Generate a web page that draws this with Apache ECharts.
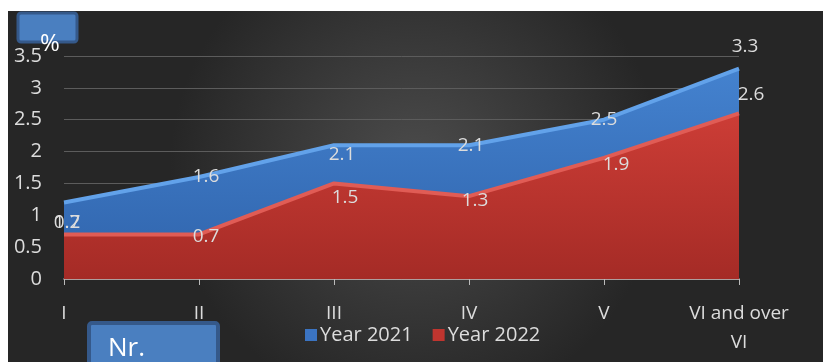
<!DOCTYPE html>
<html><head><meta charset="utf-8">
<script src="https://cdn.jsdelivr.net/npm/echarts@6/dist/echarts.min.js"></script>
<style>html,body{margin:0;padding:0;background:#fff}#c{width:823px;height:362px}</style>
</head><body><div id="c"></div>
<script>
const categories = ['I','II','III','IV','V','VI and over\nVI'];
const year2021 = [1.2, 1.6, 2.1, 2.1, 2.5, 3.3];
const year2022 = [0.7, 0.7, 1.5, 1.3, 1.9, 2.6];
const yTicks = {min: 0, max: 3.5, interval: 0.5};
const off2021 = [[3,20],[7,0],[8,9],[2,0],[0,0],[6,-22]];
const off2022 = [[3,-12],[7,2],[11,14],[6,4],[12,7],[12,-19]];

const chart = echarts.init(document.getElementById('c'));
const lbl = {show:true, position:'inside', color:'#dcdcdc', fontSize:19, fontFamily:'Open Sans'};
function mk(vals, offs){ return vals.map((v,i)=>({value:v, label:{offset:offs[i]}})); }
chart.setOption({
  animation:false,
  backgroundColor:'#ffffff',
  graphic:[
    {type:'rect', z:-10, silent:true, shape:{x:8,y:11,width:815,height:351},
     style:{fill:new echarts.graphic.RadialGradient(0.5,0.45,0.7,[{offset:0,color:'#4c4c4c'},{offset:1,color:'#262626'}])}},
    {type:'rect', z:50, shape:{x:18,y:13,width:59,height:29,r:3},
     style:{fill:'#4a7fc0', stroke:'#35598a', lineWidth:3}},
    {type:'text', z:51, style:{x:50,y:56,text:'%',fill:'#ffffff',font:'24px "Open Sans"',align:'center',verticalAlign:'bottom'}},
    {type:'rect', z:50, shape:{x:89,y:323,width:129,height:45,r:3},
     style:{fill:'#4a7fc0', stroke:'#35598a', lineWidth:4}},
    {type:'text', z:51, style:{x:108,y:336,text:'Nr.',fill:'#ffffff',font:'26px "Open Sans"',align:'left',verticalAlign:'top'}}
  ],
  grid:{left:64, right:84, top:56, bottom:83, containLabel:false},
  legend:{
    data:['Year 2021','Year 2022'], left:300, top:320, itemWidth:12, itemHeight:12, itemGap:20,
    icon:'rect', textStyle:{color:'#dcdcdc', fontSize:20, fontFamily:'Open Sans', padding:[0,0,0,-2]}
  },
  xAxis:{
    type:'category', data:categories, boundaryGap:false,
    axisLine:{lineStyle:{color:'#c8b4b4', width:1.5}},
    axisTick:{show:true, length:6, interval:0, lineStyle:{color:'#bbbbbb'}},
    axisLabel:{color:'#dcdcdc', fontSize:19, fontFamily:'Open Sans', margin:20, lineHeight:29, interval:0},
    splitLine:{show:false}
  },
  yAxis:{
    type:'value', min:yTicks.min, max:yTicks.max, interval:yTicks.interval,
    axisLine:{show:false}, axisTick:{show:false},
    axisLabel:{color:'#dcdcdc', fontSize:20, fontFamily:'Open Sans', margin:22},
    splitLine:{lineStyle:{color:'#5c5c5c', width:1}}
  },
  series:[
    {name:'Year 2021', type:'line', data:mk(year2021, off2021), symbol:'circle', symbolSize:0, showSymbol:true,
     itemStyle:{color:'#3b74c2'},
     lineStyle:{color:'#62a2ea', width:4},
     areaStyle:{opacity:1, color:new echarts.graphic.LinearGradient(0,0,0,1,[{offset:0,color:'#4482cf'},{offset:1,color:'#2f63ab'}])},
     label:lbl, z:2},
    {name:'Year 2022', type:'line', data:mk(year2022, off2022), symbol:'circle', symbolSize:0, showSymbol:true,
     itemStyle:{color:'#c0352f'},
     lineStyle:{color:'#e05c55', width:4},
     areaStyle:{opacity:1, color:new echarts.graphic.LinearGradient(0,0,0,1,[{offset:0,color:'#cc3d36'},{offset:1,color:'#a52b26'}])},
     label:lbl, z:3}
  ]
});
</script></body></html>
